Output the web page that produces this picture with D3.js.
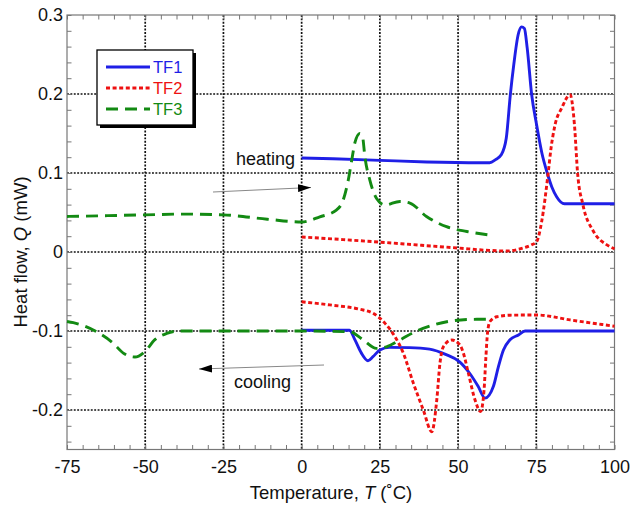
<!DOCTYPE html>
<html>
<head>
<meta charset="utf-8">
<script src="https://cdn.jsdelivr.net/npm/d3@7"></script>
<style>
  body { margin: 0; background: #fff; }
  text { font-family: "Liberation Sans", Arial, Helvetica, sans-serif; }
</style>
</head>
<body>
<svg id="chart" width="630" height="505"></svg>
<script>
// DSC heat-flow traces: heating (upper) and cooling (lower) runs, [T (°C), Q (mW)]
const tf1Heating = [[0,0.119],[10,0.118],[25,0.116],[40,0.114],[57,0.113],[60.1,0.113],[62,0.117],[63.8,0.123],[65.4,0.144],[66.7,0.199],[67.8,0.237],[69.2,0.275],[70.3,0.285],[71.2,0.283],[72.1,0.258],[73.5,0.2],[75.1,0.161],[76.8,0.125],[78.5,0.1],[80,0.082],[81.5,0.07],[84,0.061],[100,0.061]];
const tf2Heating = [[0,0.019],[12,0.016],[25,0.0125],[40,0.008],[50,0.005],[60,0.002],[65.4,0.0013],[70.8,0.005],[73.5,0.009],[75.1,0.013],[76.7,0.038],[78.8,0.1],[79.7,0.131],[81,0.161],[83.1,0.182],[85.8,0.199],[87.2,0.161],[88.2,0.1],[89.9,0.06],[93.3,0.026],[97.6,0.009],[100,0.004]];
const tf3Heating = [[-75,0.045],[-62,0.046],[-50,0.047],[-38,0.048],[-25,0.047],[-11,0.0415],[0,0.038],[5.8,0.0445],[11.1,0.053],[13.3,0.066],[14.9,0.091],[16,0.116],[17,0.138],[18.6,0.15],[19.5,0.145],[20.2,0.121],[21.8,0.091],[23.9,0.068],[26.6,0.0595],[31.4,0.064],[34.6,0.062],[39.9,0.045],[46.3,0.032],[52.8,0.026],[60,0.0215]];

const tf1Cooling = [[0,-0.099],[15.3,-0.099],[17,-0.111],[19.1,-0.128],[21.2,-0.1376],[22.8,-0.1325],[25,-0.124],[28.1,-0.1207],[34.5,-0.121],[40.9,-0.123],[46.2,-0.13],[50.5,-0.139],[53.7,-0.1535],[56.4,-0.17],[58.6,-0.185],[61.3,-0.17],[62.9,-0.145],[64.5,-0.124],[66.6,-0.111],[69.3,-0.105],[71.4,-0.1],[100,-0.1]];
const tf2Cooling = [[0,-0.063],[9,-0.067],[18.6,-0.0725],[22.8,-0.0775],[26.6,-0.09],[29.8,-0.107],[32.5,-0.128],[35.7,-0.166],[38.9,-0.2],[41.6,-0.2275],[43.2,-0.187],[44.2,-0.141],[45.3,-0.12],[48,-0.1114],[50.6,-0.1177],[51.7,-0.128],[53.3,-0.1535],[55.4,-0.187],[57.2,-0.202],[58.3,-0.175],[58.9,-0.1325],[59.4,-0.103],[60.2,-0.088],[62.4,-0.082],[66.6,-0.08],[75,-0.0797],[85.8,-0.086],[100,-0.094]];
const tf3Cooling = [[-75,-0.088],[-73,-0.0895],[-65.5,-0.101],[-60.2,-0.1156],[-57,-0.128],[-53.3,-0.133],[-50.1,-0.126],[-46.9,-0.111],[-43.1,-0.103],[-39.4,-0.1],[-20,-0.1],[0,-0.1],[15.4,-0.101],[19.6,-0.111],[23.9,-0.122],[27.1,-0.12],[31.4,-0.1114],[36.2,-0.101],[42.1,-0.0924],[48.5,-0.087],[56,-0.0852],[61,-0.0852]];

const seriesNames = ["TF1", "TF2", "TF3"];
const xTicks = [-75, -50, -25, 0, 25, 50, 75, 100];
const yTicks = [-0.2, -0.1, 0, 0.1, 0.2, 0.3];
const xTickLabels = ["-75", "-50", "-25", "0", "25", "50", "75", "100"];
const yTickLabels = ["-0.2", "-0.1", "0", "0.1", "0.2", "0.3"];
const xMinor = d3.range(-75, 100.1, 5);
const yMinor = d3.range(-0.24, 0.3001, 0.02);

const colors = { TF1: "#1f1fe6", TF2: "#ee1111", TF3: "#138a13" };
const dashes = { TF1: null, TF2: "4,2.6", TF3: "12,7" };

const svg = d3.select("#chart");
const plotL = 67, plotR = 614.5, plotT = 15, plotB = 449.5;
const x = d3.scaleLinear().domain([-75, 100]).range([plotL, plotR]);
const y = d3.scaleLinear().domain([-0.25, 0.3]).range([plotB, plotT]);

// dotted grid at major ticks (interior only)
const gridDash = "1.9,1.5";
const grid = svg.append("g");
grid.selectAll("line.vx").data(xTicks.filter(v => v > -75 && v < 100)).join("line")
  .attr("class", "vx")
  .attr("x1", d => x(d)).attr("x2", d => x(d)).attr("y1", plotT).attr("y2", plotB)
  .attr("stroke", "#111").attr("stroke-width", 1.7).attr("stroke-dasharray", gridDash);
grid.selectAll("line.hy").data(yTicks.filter(v => v < 0.3)).join("line")
  .attr("class", "hy")
  .attr("x1", plotL).attr("x2", plotR).attr("y1", d => y(d)).attr("y2", d => y(d))
  .attr("stroke", "#111").attr("stroke-width", 1.7).attr("stroke-dasharray", gridDash);

// inward ticks on all four sides
const tickLen = 4.5;
function styleAxis(g) {
  g.select(".domain").remove();
  g.selectAll(".tick line").attr("stroke", "#777").attr("stroke-width", 1);
  g.selectAll(".tick text").remove();
}
svg.append("g").attr("transform", `translate(0,${plotB})`)
  .call(d3.axisBottom(x).tickValues(xMinor).tickSize(-tickLen)).call(styleAxis);
svg.append("g").attr("transform", `translate(0,${plotT})`)
  .call(d3.axisTop(x).tickValues(xMinor).tickSize(-tickLen)).call(styleAxis);
svg.append("g").attr("transform", `translate(${plotL},0)`)
  .call(d3.axisLeft(y).tickValues(yMinor).tickSize(-tickLen)).call(styleAxis);
svg.append("g").attr("transform", `translate(${plotR},0)`)
  .call(d3.axisRight(y).tickValues(yMinor).tickSize(-tickLen)).call(styleAxis);

// frame
svg.append("rect").attr("x", plotL).attr("y", plotT)
  .attr("width", plotR - plotL).attr("height", plotB - plotT)
  .attr("fill", "none").attr("stroke", "#777").attr("stroke-width", 1.2);

// tick labels
const labelFont = 18;
const xLab = d3.axisBottom(x).tickValues(xTicks).tickFormat((d, i) => xTickLabels[i]).tickSize(0).tickPadding(11);
svg.append("g").attr("transform", `translate(0,${plotB})`).call(xLab)
  .call(g => g.select(".domain").remove())
  .call(g => g.selectAll("text").attr("font-size", labelFont).attr("fill", "#111")
    .attr("font-family", "'Liberation Sans', Arial, sans-serif"));
const yLab = d3.axisLeft(y).tickValues(yTicks).tickFormat((d, i) => yTickLabels[i]).tickSize(0).tickPadding(4);
svg.append("g").attr("transform", `translate(${plotL},0)`).call(yLab)
  .call(g => g.select(".domain").remove())
  .call(g => g.selectAll("text").attr("font-size", labelFont).attr("fill", "#111")
    .attr("font-family", "'Liberation Sans', Arial, sans-serif"));

// axis titles
const xt = svg.append("text").attr("x", 331).attr("y", 499).attr("text-anchor", "middle")
  .attr("font-size", 18.5).attr("fill", "#111");
xt.append("tspan").text("Temperature, ");
xt.append("tspan").attr("font-style", "italic").text("T");
xt.append("tspan").text(" (\u02DAC)");
const yt = svg.append("text").attr("transform", "translate(27,252) rotate(-90)")
  .attr("text-anchor", "middle").attr("font-size", 18.5).attr("fill", "#111");
yt.append("tspan").text("Heat flow, ");
yt.append("tspan").attr("font-style", "italic").text("Q");
yt.append("tspan").text(" (mW)");

// annotation arrows
const defs = svg.append("defs");
defs.append("marker").attr("id", "head").attr("viewBox", "0 0 13 8")
  .attr("refX", 13).attr("refY", 4).attr("markerWidth", 13).attr("markerHeight", 8)
  .attr("markerUnits", "userSpaceOnUse").attr("orient", "auto")
  .append("path").attr("d", "M0,0L13,4L0,8Z").attr("fill", "#000");
svg.append("line").attr("x1", 213).attr("y1", 192).attr("x2", 311).attr("y2", 187.5)
  .attr("stroke", "#888").attr("stroke-width", 1).attr("marker-end", "url(#head)");
svg.append("line").attr("x1", 324).attr("y1", 365).attr("x2", 199).attr("y2", 369)
  .attr("stroke", "#888").attr("stroke-width", 1).attr("marker-end", "url(#head)");
svg.append("text").attr("x", 236).attr("y", 165).attr("font-size", 18).attr("fill", "#111").text("heating");
svg.append("text").attr("x", 234).attr("y", 388).attr("font-size", 18).attr("fill", "#111").text("cooling");

// curves
const line = d3.line().x(d => x(d[0])).y(d => y(d[1])).curve(d3.curveMonotoneX);
const curves = [
  ["TF1", tf1Heating], ["TF1", tf1Cooling],
  ["TF2", tf2Heating], ["TF2", tf2Cooling],
  ["TF3", tf3Heating], ["TF3", tf3Cooling]
];
svg.append("g").selectAll("path").data(curves).join("path")
  .attr("d", d => line(d[1]))
  .attr("fill", "none")
  .attr("stroke", d => colors[d[0]])
  .attr("stroke-width", 2.9)
  .attr("stroke-linejoin", "round")
  .attr("stroke-dasharray", d => dashes[d[0]]);

// legend box with drop shadow
const lg = svg.append("g");
lg.append("rect").attr("x", 100).attr("y", 53).attr("width", 96).attr("height", 75).attr("fill", "#000");
lg.append("rect").attr("x", 97).attr("y", 50).attr("width", 96).attr("height", 75)
  .attr("fill", "#fff").attr("stroke", "#000").attr("stroke-width", 1.3);
const rows = lg.selectAll("g.row").data(seriesNames).join("g")
  .attr("class", "row")
  .attr("transform", (d, i) => `translate(0,${67 + i * 21})`);
rows.append("line").attr("x1", 106).attr("x2", 150).attr("y1", 0).attr("y2", 0)
  .attr("stroke", d => colors[d]).attr("stroke-width", 2.8)
  .attr("stroke-dasharray", d => dashes[d]);
rows.append("text").attr("x", 153).attr("y", 6).attr("font-size", 16.5)
  .attr("fill", d => colors[d]).text(d => d);
</script>
</body>
</html>
